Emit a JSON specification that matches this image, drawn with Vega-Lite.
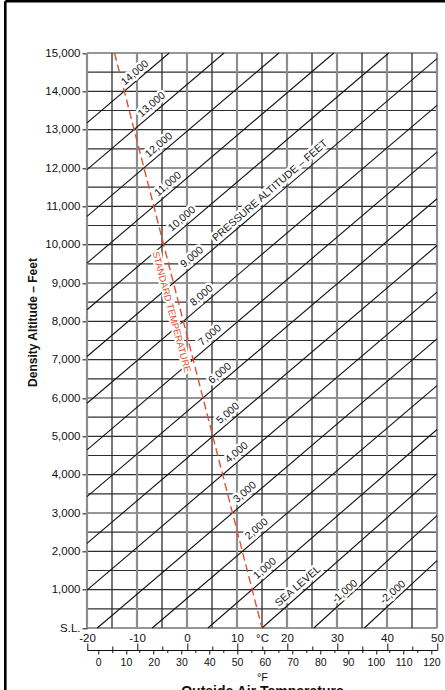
{
  "$schema": "https://vega.github.io/schema/vega-lite/v6.json",
  "autosize": {"type": "none"},
  "padding": {"left": 5.3, "top": 1.3, "right": 0, "bottom": 0},
  "width": 439.7,
  "height": 688.7,
  "background": "#ffffff",
  "config": {
    "view": {"stroke": "#000000", "strokeWidth": 2.6, "strokeDash": [439.7, 1128.4, 688.7, 10]},
    "axis": {"labelFont": "Liberation Sans", "titleFont": "Liberation Sans", "labelColor": "#111111", "titleColor": "#111111", "grid": false, "labelFlush": false, "labelOverlap": false, "labelBound": false},
    "text": {"font": "Liberation Sans"}
  },
  "resolve": {"scale": {"x": "independent", "y": "independent"}, "axis": {"x": "independent", "y": "independent"}},
  "layer": [
    {
      "data": {"values": [{"t": -15}, {"t": -5}, {"t": 5}, {"t": 15}, {"t": 25}, {"t": 35}, {"t": 45}]},
      "mark": {"type": "rule", "color": "#1e1e1e", "strokeWidth": 1.2},
      "encoding": {
        "x": {"field": "t", "type": "quantitative", "scale": {"domain": [-20, 50], "range": [81.7, 431.7], "nice": false, "zero": false},
          "axis": {"orient": "top", "offset": -648.7, "values": [-15, -5, 5, 15, 25, 35, 45], "labels": false, "domain": false, "tickSize": 4, "tickColor": "#111111", "tickWidth": 1, "title": null}},
        "y": {"datum": 0, "type": "quantitative", "scale": {"domain": [0, 15000], "range": [626.7, 51.7], "nice": false, "zero": false}, "axis": null},
        "y2": {"datum": 15000}
      }
    },
    {
      "data": {"values": [{"da": 0}, {"da": 500}, {"da": 1000}, {"da": 1500}, {"da": 2000}, {"da": 2500}, {"da": 3000}, {"da": 3500}, {"da": 4000}, {"da": 4500}, {"da": 5000}, {"da": 5500}, {"da": 6000}, {"da": 6500}, {"da": 7000}, {"da": 7500}, {"da": 8000}, {"da": 8500}, {"da": 9000}, {"da": 9500}, {"da": 10000}, {"da": 10500}, {"da": 11000}, {"da": 11500}, {"da": 12000}, {"da": 12500}, {"da": 13000}, {"da": 13500}, {"da": 14000}, {"da": 14500}, {"da": 15000}]},
      "mark": {"type": "rule", "color": "#2e2e2e", "strokeWidth": 1.2},
      "encoding": {
        "y": {"field": "da", "type": "quantitative", "scale": {"domain": [0, 15000], "range": [626.7, 51.7], "nice": false, "zero": false},
          "axis": {"orient": "left", "offset": -81.7, "values": [0, 1000, 2000, 3000, 4000, 5000, 6000, 7000, 8000, 9000, 10000, 11000, 12000, 13000, 14000, 15000],
            "labelExpr": "datum.value == 0 ? 'S.L.' : format(datum.value, ',')", "tickSize": 5, "tickColor": "#333333", "tickWidth": 1.2, "domain": false,
            "labelFontSize": 11.5, "labelPadding": 2, "title": "Density Altitude – Feet", "titleFont": "Liberation Sans Narrow, Liberation Sans", "titleFontSize": 12, "titleFontWeight": "bold",
            "titleAngle": -90, "titleBaseline": "middle", "titleAlign": "center", "titleX": -55, "titleY": 320.7}},
        "x": {"datum": -20, "type": "quantitative", "scale": {"domain": [-20, 50], "range": [81.7, 431.7], "nice": false, "zero": false}, "axis": null},
        "x2": {"datum": 50}
      }
    },
    {
      "data": {"values": [{"t": -20}, {"t": -10}, {"t": 0}, {"t": 10}, {"t": 20}, {"t": 30}, {"t": 40}, {"t": 50}]},
      "mark": {"type": "rule", "color": "#8d8d8d", "strokeWidth": 2.2},
      "encoding": {
        "x": {"field": "t", "type": "quantitative", "scale": {"domain": [-20, 50], "range": [81.7, 431.7], "nice": false, "zero": false},
          "axis": {"orient": "bottom", "offset": -62, "values": [-20, -10, 0, 10, 15, 20, 30, 40, 50], "labelExpr": "datum.value == 15 ? '°C' : '' + datum.value",
            "ticks": false, "tickSize": 0, "domain": false, "labelFontSize": 11.5, "labelPadding": 4.5,
            "title": "Outside Air Temperature", "titleFontSize": 14, "titleFontWeight": "bold", "titleX": 256.7, "titleY": 56, "titleBaseline": "top", "titleAlign": "center"}},
        "y": {"datum": 0, "type": "quantitative", "scale": {"domain": [0, 15000], "range": [626.7, 51.7], "nice": false, "zero": false}, "axis": null},
        "y2": {"datum": 15000}
      }
    },
    {
      "data": {"values": [
        {"pa": "14000", "t": -20, "da": 13176}, {"pa": "14000", "t": -3.57, "da": 15000},
        {"pa": "13000", "t": -20, "da": 11958}, {"pa": "13000", "t": 7.41, "da": 15000},
        {"pa": "12000", "t": -20, "da": 10739}, {"pa": "12000", "t": 18.39, "da": 15000},
        {"pa": "11000", "t": -20, "da": 9520}, {"pa": "11000", "t": 29.37, "da": 15000},
        {"pa": "10000", "t": -20, "da": 8302}, {"pa": "10000", "t": 40.35, "da": 15000},
        {"pa": "9000", "t": -20, "da": 7083}, {"pa": "9000", "t": 50, "da": 14853},
        {"pa": "8000", "t": -20, "da": 5864}, {"pa": "8000", "t": 50, "da": 13634},
        {"pa": "7000", "t": -20, "da": 4646}, {"pa": "7000", "t": 50, "da": 12416},
        {"pa": "6000", "t": -20, "da": 3427}, {"pa": "6000", "t": 50, "da": 11197},
        {"pa": "5000", "t": -20, "da": 2208}, {"pa": "5000", "t": 50, "da": 9978},
        {"pa": "4000", "t": -20, "da": 990}, {"pa": "4000", "t": 50, "da": 8760},
        {"pa": "3000", "t": -17.94, "da": 0}, {"pa": "3000", "t": 50, "da": 7541},
        {"pa": "2000", "t": -6.96, "da": 0}, {"pa": "2000", "t": 50, "da": 6322},
        {"pa": "1000", "t": 4.18, "da": 0}, {"pa": "1000", "t": 50, "da": 5178},
        {"pa": "0", "t": 15, "da": 0}, {"pa": "0", "t": 50, "da": 4025},
        {"pa": "-1000", "t": 25.37, "da": 0}, {"pa": "-1000", "t": 50, "da": 2931},
        {"pa": "-2000", "t": 35.47, "da": 0}, {"pa": "-2000", "t": 50, "da": 1758}
      ]},
      "mark": {"type": "line", "color": "#111111", "strokeWidth": 1.1},
      "encoding": {
        "x": {"field": "t", "type": "quantitative", "scale": {"domain": [-20, 50], "range": [81.7, 431.7], "nice": false, "zero": false},
          "axis": {"orient": "top", "offset": -648.7, "values": [-20, -10, 0, 10, 20, 30, 40, 50], "labels": false, "domain": false, "tickSize": 7, "tickColor": "#111111", "tickWidth": 1, "title": null}},
        "y": {"field": "da", "type": "quantitative", "scale": {"domain": [0, 15000], "range": [626.7, 51.7], "nice": false, "zero": false}, "axis": null},
        "detail": {"field": "pa", "type": "nominal"},
        "order": {"field": "t", "type": "quantitative"}
      }
    },
    {
      "data": {"values": [{"t": -14.5, "da": 15000}, {"t": 15, "da": 0}]},
      "mark": {"type": "line", "color": "#e4502f", "strokeWidth": 1.4, "strokeDash": [8, 4]},
      "encoding": {
        "x": {"field": "t", "type": "quantitative", "scale": {"domain": [-20, 50], "range": [81.7, 431.7], "nice": false, "zero": false}, "axis": null},
        "y": {"field": "da", "type": "quantitative", "scale": {"domain": [0, 15000], "range": [626.7, 51.7], "nice": false, "zero": false}, "axis": null}
      }
    },
    {
      "data": {"name": "labels", "values": [
        {"label": "14,000", "t": -10.4, "da": 14480},
        {"label": "13,000", "t": -7.06, "da": 13654},
        {"label": "12,000", "t": -5.6, "da": 12597},
        {"label": "11,000", "t": -3.8, "da": 11579},
        {"label": "10,000", "t": -1.0, "da": 10671},
        {"label": "PRESSURE ALTITUDE – FEET", "t": 16.6, "da": 11406},
        {"label": "9,000", "t": 1.0, "da": 9674},
        {"label": "8,000", "t": 2.94, "da": 8671},
        {"label": "7,000", "t": 4.6, "da": 7636},
        {"label": "6,000", "t": 6.6, "da": 6640},
        {"label": "5,000", "t": 8.2, "da": 5599},
        {"label": "4,000", "t": 9.94, "da": 4573},
        {"label": "3,000", "t": 11.6, "da": 3539},
        {"label": "2,000", "t": 13.94, "da": 2580},
        {"label": "1,000", "t": 15.6, "da": 1550},
        {"label": "SEA LEVEL", "t": 22.2, "da": 1088},
        {"label": "-1,000", "t": 31.6, "da": 950},
        {"label": "-2,000", "t": 41.2, "da": 930}
      ]},
      "layer": [
        {
          "mark": {"type": "text", "angle": -41, "fontSize": 10.5, "align": "center", "baseline": "middle", "fill": "#ffffff", "stroke": "#ffffff", "strokeWidth": 5, "strokeJoin": "round"},
          "encoding": {
            "x": {"field": "t", "type": "quantitative", "scale": {"domain": [-20, 50], "range": [81.7, 431.7], "nice": false, "zero": false}, "axis": null},
            "y": {"field": "da", "type": "quantitative", "scale": {"domain": [0, 15000], "range": [626.7, 51.7], "nice": false, "zero": false}, "axis": null},
            "text": {"field": "label"}
          }
        },
        {
          "mark": {"type": "text", "angle": -41, "fontSize": 10.5, "align": "center", "baseline": "middle", "fill": "#111111"},
          "encoding": {
            "x": {"field": "t", "type": "quantitative", "scale": {"domain": [-20, 50], "range": [81.7, 431.7], "nice": false, "zero": false}, "axis": null},
            "y": {"field": "da", "type": "quantitative", "scale": {"domain": [0, 15000], "range": [626.7, 51.7], "nice": false, "zero": false}, "axis": null},
            "text": {"field": "label"}
          }
        }
      ]
    },
    {
      "data": {"values": [{"label": "STANDARD TEMPERATURE", "t": -3.1, "da": 8243}]},
      "layer": [
        {
          "mark": {"type": "text", "angle": 75, "fontSize": 9.5, "align": "center", "baseline": "middle", "fill": "#ffffff", "stroke": "#ffffff", "strokeWidth": 4, "strokeJoin": "round"},
          "encoding": {
            "x": {"field": "t", "type": "quantitative", "scale": {"domain": [-20, 50], "range": [81.7, 431.7], "nice": false, "zero": false}, "axis": null},
            "y": {"field": "da", "type": "quantitative", "scale": {"domain": [0, 15000], "range": [626.7, 51.7], "nice": false, "zero": false}, "axis": null},
            "text": {"field": "label"}
          }
        },
        {
          "mark": {"type": "text", "angle": 75, "fontSize": 9.5, "align": "center", "baseline": "middle", "fill": "#e4502f"},
          "encoding": {
            "x": {"field": "t", "type": "quantitative", "scale": {"domain": [-20, 50], "range": [81.7, 431.7], "nice": false, "zero": false}, "axis": null},
            "y": {"field": "da", "type": "quantitative", "scale": {"domain": [0, 15000], "range": [626.7, 51.7], "nice": false, "zero": false}, "axis": null},
            "text": {"field": "label"}
          }
        }
      ]
    },
    {
      "data": {"values": [{"f": -4}, {"f": 122}]},
      "mark": {"type": "point", "opacity": 0},
      "encoding": {
        "x": {"field": "f", "type": "quantitative", "scale": {"domain": [-4, 122], "range": [81.7, 431.7], "nice": false, "zero": false},
          "axis": {"orient": "bottom", "offset": -40, "values": [0, 10, 20, 30, 40, 50, 60, 70, 80, 90, 100, 110, 120], "tickSize": 4, "tickColor": "#111111", "tickWidth": 1,
            "domain": true, "domainColor": "#111111", "domainWidth": 1, "labelFontSize": 10.5, "labelPadding": 3, "labelExpr": "'' + datum.value",
            "title": "°F", "titleFontSize": 11, "titleFontWeight": "normal", "titleX": 256.7, "titleY": 21, "titleBaseline": "top", "titleAlign": "center"}}
      }
    },
    {
      "data": {"values": [{"f": -4}, {"f": 122}]},
      "mark": {"type": "point", "opacity": 0},
      "encoding": {
        "x": {"field": "f", "type": "quantitative", "scale": {"domain": [-4, 122], "range": [81.7, 431.7], "nice": false, "zero": false},
          "axis": {"orient": "bottom", "offset": -40, "values": [5, 15, 25, 35, 45, 55, 65, 75, 85, 95, 105, 115], "tickSize": 2.5, "tickColor": "#111111", "tickWidth": 1,
            "labels": false, "domain": false, "title": null}}
      }
    }
  ]
}
